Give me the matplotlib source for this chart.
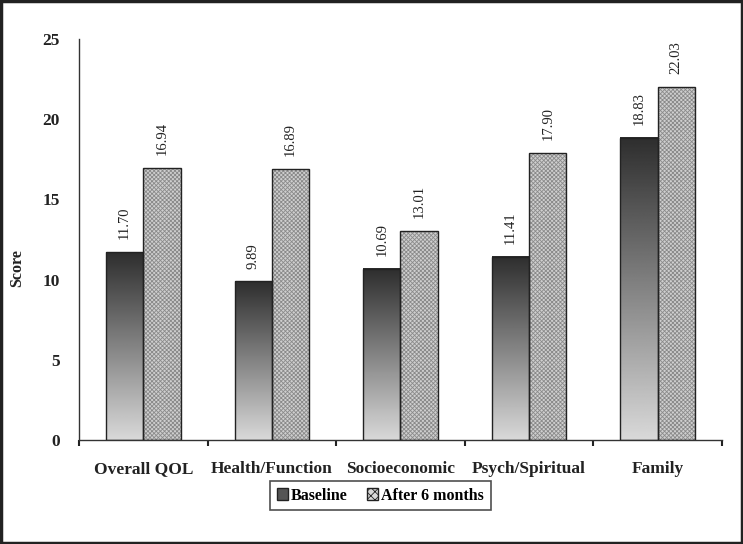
import matplotlib
matplotlib.use("Agg")
from matplotlib import pyplot as plt
from matplotlib.patches import Patch, Rectangle
import numpy as np

plt.rcParams['font.family'] = ['Liberation Serif', 'DejaVu Serif']
plt.rcParams['hatch.linewidth'] = 0.6

categories = ['Overall QOL', 'Health/Function', 'Socioeconomic', 'Psych/Spiritual', 'Family']
baseline = [11.70, 9.89, 10.69, 11.41, 18.83]
after_6m = [16.94, 16.89, 13.01, 17.90, 22.03]
series_names = ['Baseline', 'After 6 months']
yticks = [0, 5, 10, 15, 20, 25]

fig = plt.figure(figsize=(7.43, 5.44), dpi=100)
ax = fig.add_axes([0.1063, 0.1912, 0.8654, 0.7371])

x = np.arange(len(categories))
w = 0.29
grad = np.linspace(0.85, 0.18, 256).reshape(-1, 1)  # bottom light -> top dark

for xi, b, a in zip(x, baseline, after_6m):
    # baseline bar with vertical gradient
    x0 = xi - w
    ax.imshow(grad, extent=(x0, xi, 0, b), origin='lower', aspect='auto',
              cmap='gray', vmin=0, vmax=1, zorder=2)
    ax.add_patch(Rectangle((x0, 0), w, b, fill=False, edgecolor='#222222', lw=1.0, zorder=3))
    # after bar, cross-hatched
    ax.bar(xi + w / 2, a, w, color='#cfcfcf', hatch='xxxxxxxx', edgecolor='#8a8a8a', lw=0, zorder=2)
    ax.add_patch(Rectangle((xi, 0), w, a, fill=False, edgecolor='#222222', lw=1.0, zorder=3))
    ax.text(xi - w / 2, b + 0.8, f"{b:.2f}", rotation=90, ha='center', va='bottom', fontsize=10.5, color='#222222')
    ax.text(xi + w / 2, a + 0.8, f"{a:.2f}", rotation=90, ha='center', va='bottom', fontsize=10.5, color='#222222')

ax.set_xlim(-0.5, len(categories) - 0.5)
ax.set_ylim(0, 25)
ax.set_yticks(yticks)
ax.set_yticklabels([str(t) for t in yticks], fontsize=12.5, fontweight='bold', color='#222222')
ax.tick_params(axis='y', length=0, pad=14)
ax.set_xticks(x)
ax.set_xticklabels(categories, fontsize=12.5, fontweight='bold', color='#222222')
ax.set_xticks(np.arange(len(categories) + 1) - 0.5, minor=True)
ax.tick_params(axis='x', which='major', length=0, pad=15)
ax.tick_params(axis='x', which='minor', length=4, width=1.5, color='#222222')
ax.set_ylabel('Score', fontsize=11.5, fontweight='bold', color='#222222')
ax.yaxis.set_label_coords(-0.084, 0.43)

for s in ['top', 'right']:
    ax.spines[s].set_visible(False)
for s in ['left', 'bottom']:
    ax.spines[s].set_color('#333333')
    ax.spines[s].set_linewidth(1.0)

handles = [Patch(facecolor='#555555', edgecolor='#222222', label=series_names[0]),
           Patch(facecolor='#d8d8d8', hatch='xxxx', edgecolor='#222222', label=series_names[1])]
leg = fig.legend(handles=handles, loc='center', bbox_to_anchor=(0.512, 0.089), ncol=2,
                 frameon=True, fancybox=False, edgecolor='#222222',
                 prop={'family': 'Liberation Serif', 'weight': 'bold', 'size': 11.5},
                 handlelength=0.7, handleheight=0.7, handletextpad=0.2, columnspacing=1.2,
                 borderpad=0.4)
leg.get_frame().set_linewidth(1.2)

fig.patches.append(Rectangle((0.002, 0.002), 0.996, 0.996, transform=fig.transFigure,
                             fill=False, edgecolor='#222222', lw=2.5))

fig.savefig('out.png', dpi=100)
